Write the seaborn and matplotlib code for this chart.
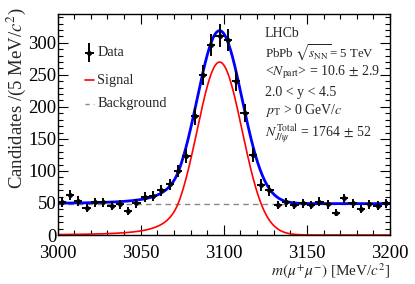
import numpy as np
import pandas as pd
import matplotlib
matplotlib.use("Agg")
import matplotlib.pyplot as plt
from matplotlib.ticker import MultipleLocator
import seaborn as sns

# ---- data ----
bin_centers = [3002.5 + 5 * i for i in range(40)]
counts = [51, 62.5, 53, 41.6, 51, 51, 46, 48, 38, 49.5,
          60, 61, 70, 79, 100, 123, 185, 250, 297, 311,
          304, 240, 190, 125, 78, 70, 47, 51, 47, 49.5,
          47, 52, 48, 35, 57, 49.5, 40.6, 48, 46, 49.5]
bin_half_width = 2.5

# fit model parameters (Crystal Ball signal + flat background)
sig_peak = 270.0
sig_mean = 3097.5
sig_sigma = 13.5
cb_alpha = 1.8
cb_n = 3.0
bkg_level = 49.0

x_ticks = [3000, 3050, 3100, 3150, 3200]
y_ticks = [0, 50, 100, 150, 200, 250, 300]

sns.set_theme(style="ticks")
plt.rcParams['font.family'] = ['Liberation Serif', 'DejaVu Serif']
plt.rcParams['mathtext.fontset'] = 'stix'


def crystal_ball(x):
    t = (x - sig_mean) / sig_sigma
    A = (cb_n / cb_alpha) ** cb_n * np.exp(-cb_alpha ** 2 / 2)
    B = cb_n / cb_alpha - cb_alpha
    out = np.where(t > -cb_alpha, np.exp(-t ** 2 / 2),
                   A * np.abs(B - t) ** (-cb_n))
    return sig_peak * out


xs = np.linspace(3000, 3200, 801)
sig = crystal_ball(xs)
curves = pd.DataFrame({"x": xs, "signal": sig, "total": sig + bkg_level,
                       "bkg": np.full_like(xs, bkg_level)})

fig = plt.figure(figsize=(4.15, 2.84), dpi=100)
ax = fig.add_axes([0.1386, 0.1725, 0.8012, 0.7782])

sns.lineplot(data=curves, x="x", y="bkg", ax=ax, color="#888888",
             linestyle=(0, (4, 3)), linewidth=1.0)
sns.lineplot(data=curves, x="x", y="signal", ax=ax, color="#ff0000", linewidth=1.2)
sns.lineplot(data=curves, x="x", y="total", ax=ax, color="#0000ff", linewidth=2.0)

cnt = np.array(counts)
ax.errorbar(bin_centers, cnt, yerr=np.sqrt(cnt), xerr=bin_half_width,
            fmt='o', color='black', markersize=2.5, elinewidth=1.4, capsize=0,
            zorder=5)

ax.set_xlim(3000, 3200)
ax.set_ylim(0, 345)
ax.set_xticks(x_ticks)
ax.set_yticks(y_ticks)
ax.xaxis.set_minor_locator(MultipleLocator(10))
ax.yaxis.set_minor_locator(MultipleLocator(10))
ax.tick_params(which='both', direction='in', top=True, right=True,
               labelsize=13.5, width=0.8, colors='black')
ax.tick_params(which='major', length=7)
ax.tick_params(which='minor', length=3.5)
ax.tick_params(axis='x', pad=7)
ax.tick_params(axis='y', pad=1)
for s in ax.spines.values():
    s.set_linewidth(1.0)
    s.set_color('black')

ax.set_xlabel(r'$m(\mu^{+}\mu^{-})$ [MeV/$c^{2}$]', fontsize=11, loc='right',
              labelpad=0)
ax.set_ylabel('')
fig.text(16 / 415, 1 - 7 / 284, r'Candidates /(5 MeV/$c^{2}$)', rotation=90,
         fontsize=13.5, ha='center', va='top')

# legend drawn manually in axes coordinates
tr = ax.transAxes
ax.errorbar([0.096], [0.824], xerr=[0.014], yerr=[0.043], transform=tr,
            fmt='o', color='black', markersize=2.5, elinewidth=1.4, capsize=0)
ax.text(0.119, 0.824, 'Data', transform=tr, fontsize=10.3, va='center')
ax.plot([0.083, 0.11], [0.701, 0.701], transform=tr, color='#ff0000', lw=1.2)
ax.text(0.119, 0.701, 'Signal', transform=tr, fontsize=10.3, va='center')
ax.plot([0.083, 0.11], [0.593, 0.593], transform=tr, color='#888888', lw=1.0,
        linestyle=(0, (3, 3)))
ax.text(0.119, 0.593, 'Background', transform=tr, fontsize=10.3, va='center')

lines = ['LHCb',
         r'PbPb $\sqrt{s_{\rm NN}}$= 5 TeV',
         r'<$N_{\rm part}$> = 10.6 $\pm$ 2.9',
         r'2.0 < y < 4.5',
         r'$p_{\rm T}$ > 0 GeV/$c$',
         r'$N^{\rm Total}_{J/\psi}$ = 1764 $\pm$ 52']
sizes = [10, 9.3, 10, 10, 10, 10]
ys = [0.913, 0.824, 0.738, 0.647, 0.562, 0.46]
for t, yy, fs in zip(lines, ys, sizes):
    ax.text(0.624, yy, t, transform=tr, fontsize=fs, va='center')

fig.savefig('out.png', dpi=100)
